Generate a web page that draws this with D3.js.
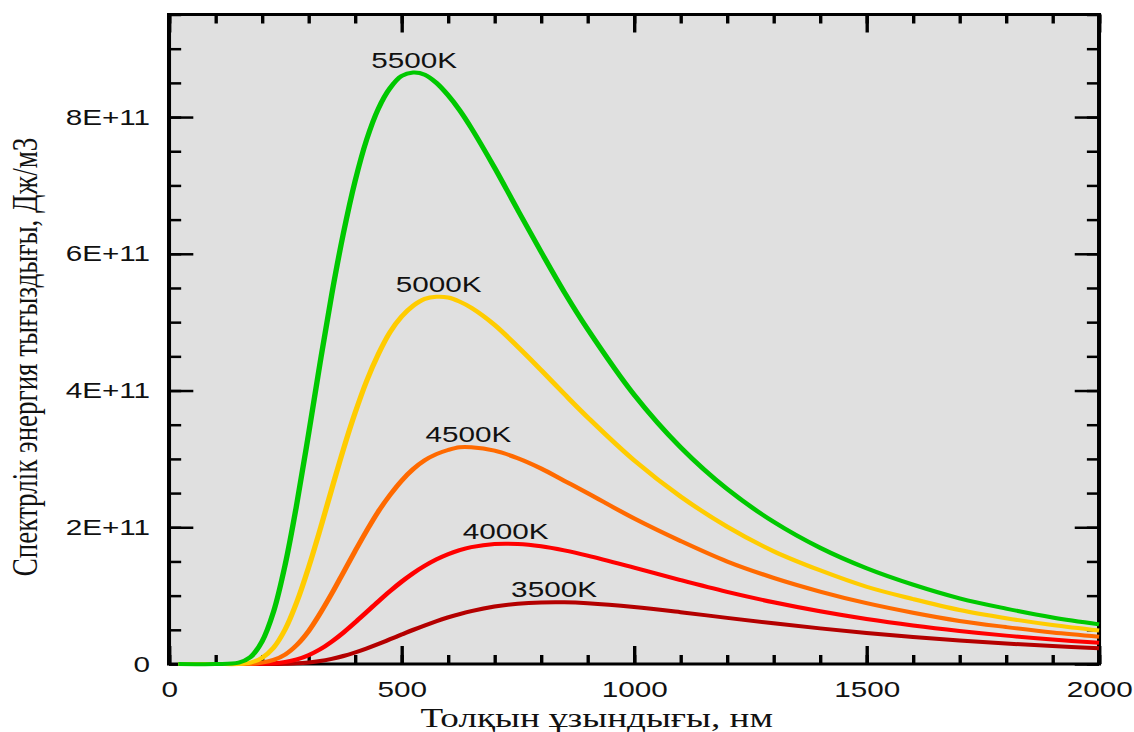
<!DOCTYPE html>
<html>
<head>
<meta charset="utf-8">
<script src="https://cdn.jsdelivr.net/npm/d3@7"></script>
<style>
  body { margin: 0; background: #fff; }
  svg { display: block; }
</style>
</head>
<body>
<svg id="chart" width="1134" height="732" viewBox="0 0 840 732" preserveAspectRatio="none"></svg>
<script>
// wavelength, nm
const wavelengths = [20, 100, 150, 175, 200, 225, 250, 275, 300, 325,
  350, 375, 400, 425, 450, 475, 500, 525, 550, 575, 600, 625, 650,
  700, 750, 800, 850, 900,
  1000, 1100, 1200, 1300, 1400, 1500, 1600, 1700, 1800, 1900, 2000];

// spectral energy density, in units of 1E+11
const u3500 = [0, 0, 0, 0, 0, 0.000, 0.004, 0.010, 0.023, 0.044,
  0.076, 0.117, 0.168, 0.227, 0.292, 0.361, 0.430, 0.499, 0.564, 0.625, 0.681, 0.731, 0.774,
  0.840, 0.881, 0.900, 0.902, 0.888,
  0.833, 0.758, 0.675, 0.595, 0.521, 0.454, 0.396, 0.344, 0.300, 0.262, 0.229];
const u4000 = [0, 0, 0, 0, 0.002, 0.010, 0.029, 0.066, 0.128, 0.215,
  0.328, 0.460, 0.607, 0.761, 0.915, 1.064, 1.203, 1.328, 1.437, 1.530, 1.606, 1.665, 1.709,
  1.755, 1.755, 1.721, 1.661, 1.585,
  1.409, 1.227, 1.055, 0.903, 0.771, 0.658, 0.563, 0.483, 0.415, 0.358, 0.310];
const u4500 = [0, 0, 0, 0.00, 0.02, 0.06, 0.14, 0.28, 0.48, 0.74,
  1.03, 1.34, 1.65, 1.95, 2.23, 2.47, 2.68, 2.85, 2.98, 3.07, 3.13, 3.17, 3.17,
  3.12, 3.01, 2.86, 2.68, 2.50,
  2.13, 1.80, 1.50, 1.26, 1.06, 0.89, 0.75, 0.63, 0.54, 0.46, 0.40];
const u5000 = [0, 0, 0.00, 0.02, 0.09, 0.24, 0.51, 0.91, 1.41, 1.97,
  2.56, 3.14, 3.67, 4.14, 4.53, 4.85, 5.08, 5.24, 5.34, 5.37, 5.36, 5.30, 5.21,
  4.96, 4.64, 4.30, 3.95, 3.61,
  2.98, 2.45, 2.01, 1.65, 1.37, 1.13, 0.95, 0.79, 0.67, 0.57, 0.49];
const u5500 = [0, 0, 0.02, 0.10, 0.33, 0.77, 1.46, 2.35, 3.36, 4.41,
  5.41, 6.30, 7.06, 7.67, 8.12, 8.42, 8.60, 8.65, 8.62, 8.50, 8.32, 8.10, 7.84,
  7.26, 6.64, 6.03, 5.44, 4.90,
  3.94, 3.17, 2.56, 2.08, 1.70, 1.40, 1.16, 0.96, 0.81, 0.68, 0.58];

const temps = ["3500K", "4000K", "4500K", "5000K", "5500K"];
const peakNm = [828, 724, 644, 580, 527];
const colors = ["#b40000", "#ff0000", "#ff6a00", "#ffcc00", "#00c800"];

const xTicks = [0, 500, 1000, 1500, 2000];
const yTicks = [0, 2, 4, 6, 8];

const series = [u3500, u4000, u4500, u5000, u5500];

// the picture is stretched sideways, so draw in a narrower box and let the svg stretch it
const svg = d3.select("#chart");
const plotLeft = 125.2, plotRight = 814.1, plotTop = 14.5, plotBottom = 664;

const x = d3.scaleLinear().domain([0, 2000]).range([plotLeft, plotRight]);
const y = d3.scaleLinear().domain([0, 9.5]).range([plotBottom, plotTop]);

svg.append("rect")
  .attr("x", plotLeft).attr("y", plotTop)
  .attr("width", plotRight - plotLeft).attr("height", plotBottom - plotTop)
  .attr("fill", "#e0e0e0");

const minorX = d3.range(0, 2001, 100);
const minorY = d3.range(0, 9.6, 0.5);

function styleAxis(g) {
  g.select(".domain").remove();
  g.selectAll(".tick line").attr("stroke", "#000").attr("stroke-width", 2.5);
  g.selectAll("text")
    .attr("fill", "#111")
    .style("font-family", "'Liberation Sans', Arial, sans-serif")
    .style("font-size", "22px");
}

// minor ticks, all four sides
svg.append("g").attr("transform", "translate(0," + plotBottom + ")")
  .call(d3.axisBottom(x).tickValues(minorX).tickSize(-9).tickFormat(""))
  .call(styleAxis);
svg.append("g").attr("transform", "translate(0," + plotTop + ")")
  .call(d3.axisTop(x).tickValues(minorX).tickSize(-9).tickFormat(""))
  .call(styleAxis);
svg.append("g").attr("transform", "translate(" + plotLeft + ",0)")
  .call(d3.axisLeft(y).tickValues(minorY).tickSize(-9).tickFormat(""))
  .call(styleAxis);
svg.append("g").attr("transform", "translate(" + plotRight + ",0)")
  .call(d3.axisRight(y).tickValues(minorY).tickSize(-9).tickFormat(""))
  .call(styleAxis);

// major ticks
svg.append("g").attr("transform", "translate(0," + plotBottom + ")")
  .call(d3.axisBottom(x).tickValues(xTicks).tickSize(-18).tickPadding(17).tickFormat(d3.format("d")))
  .call(styleAxis);
svg.append("g").attr("transform", "translate(0," + plotTop + ")")
  .call(d3.axisTop(x).tickValues(xTicks).tickSize(-18).tickFormat(""))
  .call(styleAxis);
svg.append("g").attr("transform", "translate(" + plotLeft + ",0)")
  .call(d3.axisLeft(y).tickValues(yTicks).tickSize(-18).tickPadding(14)
    .tickFormat(d => d === 0 ? "0" : d + "E+11"))
  .call(styleAxis);
svg.append("g").attr("transform", "translate(" + plotRight + ",0)")
  .call(d3.axisRight(y).tickValues(yTicks).tickSize(-18).tickFormat(""))
  .call(styleAxis);

// frame
svg.append("rect")
  .attr("x", plotLeft).attr("y", plotTop)
  .attr("width", plotRight - plotLeft).attr("height", plotBottom - plotTop)
  .attr("fill", "none").attr("stroke", "#000").attr("stroke-width", 3);

const line = d3.line()
  .x((d, i) => x(wavelengths[i]))
  .y(d => y(Math.max(d, 0)))
  .curve(d3.curveCatmullRom.alpha(0.5));

svg.selectAll(".curve")
  .data(series)
  .enter().append("path")
  .attr("class", "curve")
  .attr("d", line)
  .attr("fill", "none")
  .attr("stroke", (d, i) => colors[i])
  .attr("stroke-width", 4)
  .attr("stroke-linejoin", "round");

svg.selectAll(".temp")
  .data(series)
  .enter().append("text")
  .attr("class", "temp")
  .attr("x", (d, i) => x(peakNm[i]))
  .attr("y", d => y(d3.max(d)) - 5)
  .attr("text-anchor", "middle")
  .attr("fill", "#111")
  .style("font-family", "'Liberation Sans', Arial, sans-serif")
  .style("font-size", "22px")
  .text((d, i) => temps[i]);

svg.append("text")
  .attr("x", 442)
  .attr("y", 727)
  .attr("text-anchor", "middle")
  .attr("fill", "#111")
  .style("font-family", "'Liberation Serif', 'Times New Roman', serif")
  .style("font-size", "27.5px")
  .text("Толқын ұзындығы, нм");

svg.append("text")
  .attr("transform", "translate(27.4,357) rotate(-90)")
  .attr("text-anchor", "middle")
  .attr("fill", "#111")
  .style("font-family", "'Liberation Serif', 'Times New Roman', serif")
  .style("font-size", "27px")
  .text("Спектрлік энергия тығыздығы, Дж/м3");
</script>
</body>
</html>
